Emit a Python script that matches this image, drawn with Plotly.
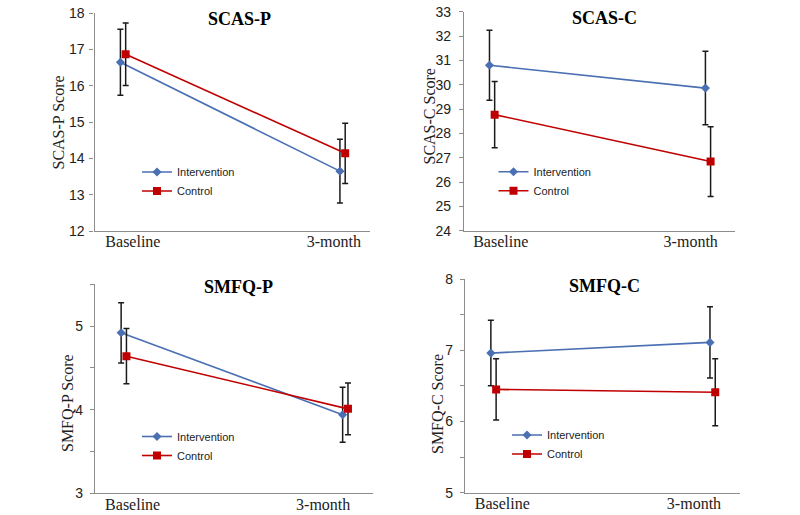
import plotly.graph_objects as go

# ---------------- data ----------------
time_points = ["Baseline", "3-month"]
groups = ["Intervention", "Control"]

panel_titles = ["SCAS-P", "SCAS-C", "SMFQ-P", "SMFQ-C"]
y_titles = ["SCAS-P Score", "SCAS-C Score", "SMFQ-P Score", "SMFQ-C Score"]

scas_p_int = [16.65, 13.65]
scas_p_int_err = [0.91, 0.88]
scas_p_ctl = [16.87, 14.14]
scas_p_ctl_err = [0.86, 0.83]

scas_c_int = [30.80, 29.86]
scas_c_int_err = [1.44, 1.51]
scas_c_ctl = [28.77, 26.84]
scas_c_ctl_err = [1.36, 1.43]

smfq_p_int = [4.92, 3.94]
smfq_p_int_err = [0.36, 0.33]
smfq_p_ctl = [4.64, 4.01]
smfq_p_ctl_err = [0.33, 0.31]

smfq_c_int = [6.96, 7.11]
smfq_c_int_err = [0.46, 0.50]
smfq_c_ctl = [6.45, 6.41]
smfq_c_ctl_err = [0.43, 0.47]

y_ranges = [[12, 18], [24, 33], [3, 5.5], [5, 8]]
y_tickvals = [
    [12, 13, 14, 15, 16, 17, 18],
    [24, 25, 26, 27, 28, 29, 30, 31, 32, 33],
    [3, 3.5, 4, 4.5, 5, 5.5],
    [5, 5.5, 6, 6.5, 7, 7.5, 8],
]
y_ticktext = [
    ["12", "13", "14", "15", "16", "17", "18"],
    ["24", "25", "26", "27", "28", "29", "30", "31", "32", "33"],
    ["3", "", "4", "", "5", ""],
    ["5", "", "6", "", "7", "", "8"],
]

series = [
    (scas_p_int, scas_p_int_err, scas_p_ctl, scas_p_ctl_err),
    (scas_c_int, scas_c_int_err, scas_c_ctl, scas_c_ctl_err),
    (smfq_p_int, smfq_p_int_err, smfq_p_ctl, smfq_p_ctl_err),
    (smfq_c_int, smfq_c_int_err, smfq_c_ctl, smfq_c_ctl_err),
]

# ---------------- layout ----------------
# page body margin is removed (post_script), so figure px == page px
OFF = 0
W, H = 800 - OFF, 515 - OFF


def fx(p):
    return (p - OFF) / W


def fy(p):
    return 1 - (p - OFF) / H


# plot areas in page px: x0, x1, ytop, ybottom
areas = [
    (94.5, 370, 13.3, 231),
    (464, 735, 11.7, 230.7),
    (95, 373, 284.3, 493.3),
    (465, 740, 279, 492.7),
]
x_range = [-0.13, 1.125]
x_label_pos = [[0.045, 0.96], [0.04, 0.92], [0.04, 0.90], [0.04, 0.915]]
y_label_standoff = [2, 5, 4, 4]
group_offset = 0.012
title_pos = [(239, 19), (604, 18), (238, 287), (604, 286)]
ytitle_pos = [(58.5, 123), (429.5, 117), (67, 403), (437, 404)]
# legend left / top in page px
legend_pos = [(137, 157.5), (493.5, 157.3), (137, 422), (507, 420.5)]

BLUE = "#4A6FB3"
RED = "#C00000"
AXIS = "#8C8C8C"
ERR = "#1A1A1A"

fig = go.Figure()

x_base = list(range(len(time_points)))
for i, (iv, ie, cv, ce) in enumerate(series):
    sfx = "" if i == 0 else str(i + 1)
    leg = "legend" if i == 0 else f"legend{i + 1}"
    for name, vals, errs, col, sym, msz, off in [
        (groups[0], iv, ie, BLUE, "diamond", 7, -group_offset),
        (groups[1], cv, ce, RED, "square", 8, group_offset),
    ]:
        fig.add_trace(go.Scatter(
            x=[xb + off for xb in x_base], y=vals, name=name,
            mode="lines+markers",
            line=dict(color=col, width=1.6),
            marker=dict(color=col, symbol=sym, size=msz),
            error_y=dict(type="data", array=errs, visible=True,
                         color=ERR, thickness=1.5, width=3),
            xaxis="x" + sfx, yaxis="y" + sfx, legend=leg,
        ))

layout = dict(
    width=W, height=H,
    margin=dict(l=0, r=0, t=0, b=0, autoexpand=False),
    paper_bgcolor="white", plot_bgcolor="white",
    showlegend=True,
    annotations=[],
)
for i in range(4):
    x0, x1, yt, yb = areas[i]
    sfx = "" if i == 0 else str(i + 1)
    layout["xaxis" + sfx] = dict(
        domain=[fx(x0), fx(x1)], range=x_range,
        anchor="y" + sfx, showgrid=False, zeroline=False,
        showline=True, linecolor=AXIS, linewidth=1.3,
        tickmode="array", tickvals=x_label_pos[i], ticktext=time_points,
        ticks="", ticklabelstandoff=-4, ticklabeloverflow="allow",
        tickfont=dict(family="Liberation Serif", size=16, color="#222"),
    )
    layout["yaxis" + sfx] = dict(
        domain=[fy(yb), fy(yt)], range=y_ranges[i],
        anchor="x" + sfx, showgrid=False, zeroline=False,
        showline=True, linecolor=AXIS, linewidth=1.3,
        tickmode="array", tickvals=y_tickvals[i], ticktext=y_ticktext[i],
        ticks="outside", ticklen=4, tickcolor=AXIS, tickwidth=1.2,
        ticklabelstandoff=y_label_standoff[i], ticklabeloverflow="allow",
        tickfont=dict(family="Liberation Sans", size=14, color="#222"),
    )
    leg = "legend" if i == 0 else f"legend{i + 1}"
    lx, ly = legend_pos[i]
    layout[leg] = dict(
        x=fx(lx), y=fy(ly), xanchor="left", yanchor="top",
        xref="paper", yref="paper",
        bgcolor="rgba(0,0,0,0)", borderwidth=0,
        font=dict(family="Liberation Sans", size=11, color="#222"),
        itemwidth=30,
    )
    tx, ty = title_pos[i]
    layout["annotations"].append(dict(
        x=fx(tx), y=fy(ty), xref="paper", yref="paper",
        text="<b>" + panel_titles[i] + "</b>", showarrow=False,
        xanchor="center", yanchor="middle",
        font=dict(family="Liberation Serif", size=18, color="#000"),
    ))
    ax_, ay_ = ytitle_pos[i]
    layout["annotations"].append(dict(
        x=fx(ax_), y=fy(ay_), xref="paper", yref="paper",
        text=y_titles[i], showarrow=False, textangle=-90,
        xanchor="center", yanchor="middle",
        font=dict(family="Liberation Serif", size=16, color="#222"),
    ))

fig.update_layout(**layout)
fig.write_html(
    "out.html",
    config={"displayModeBar": False},
    post_script="document.body.style.margin='0px';",
)
